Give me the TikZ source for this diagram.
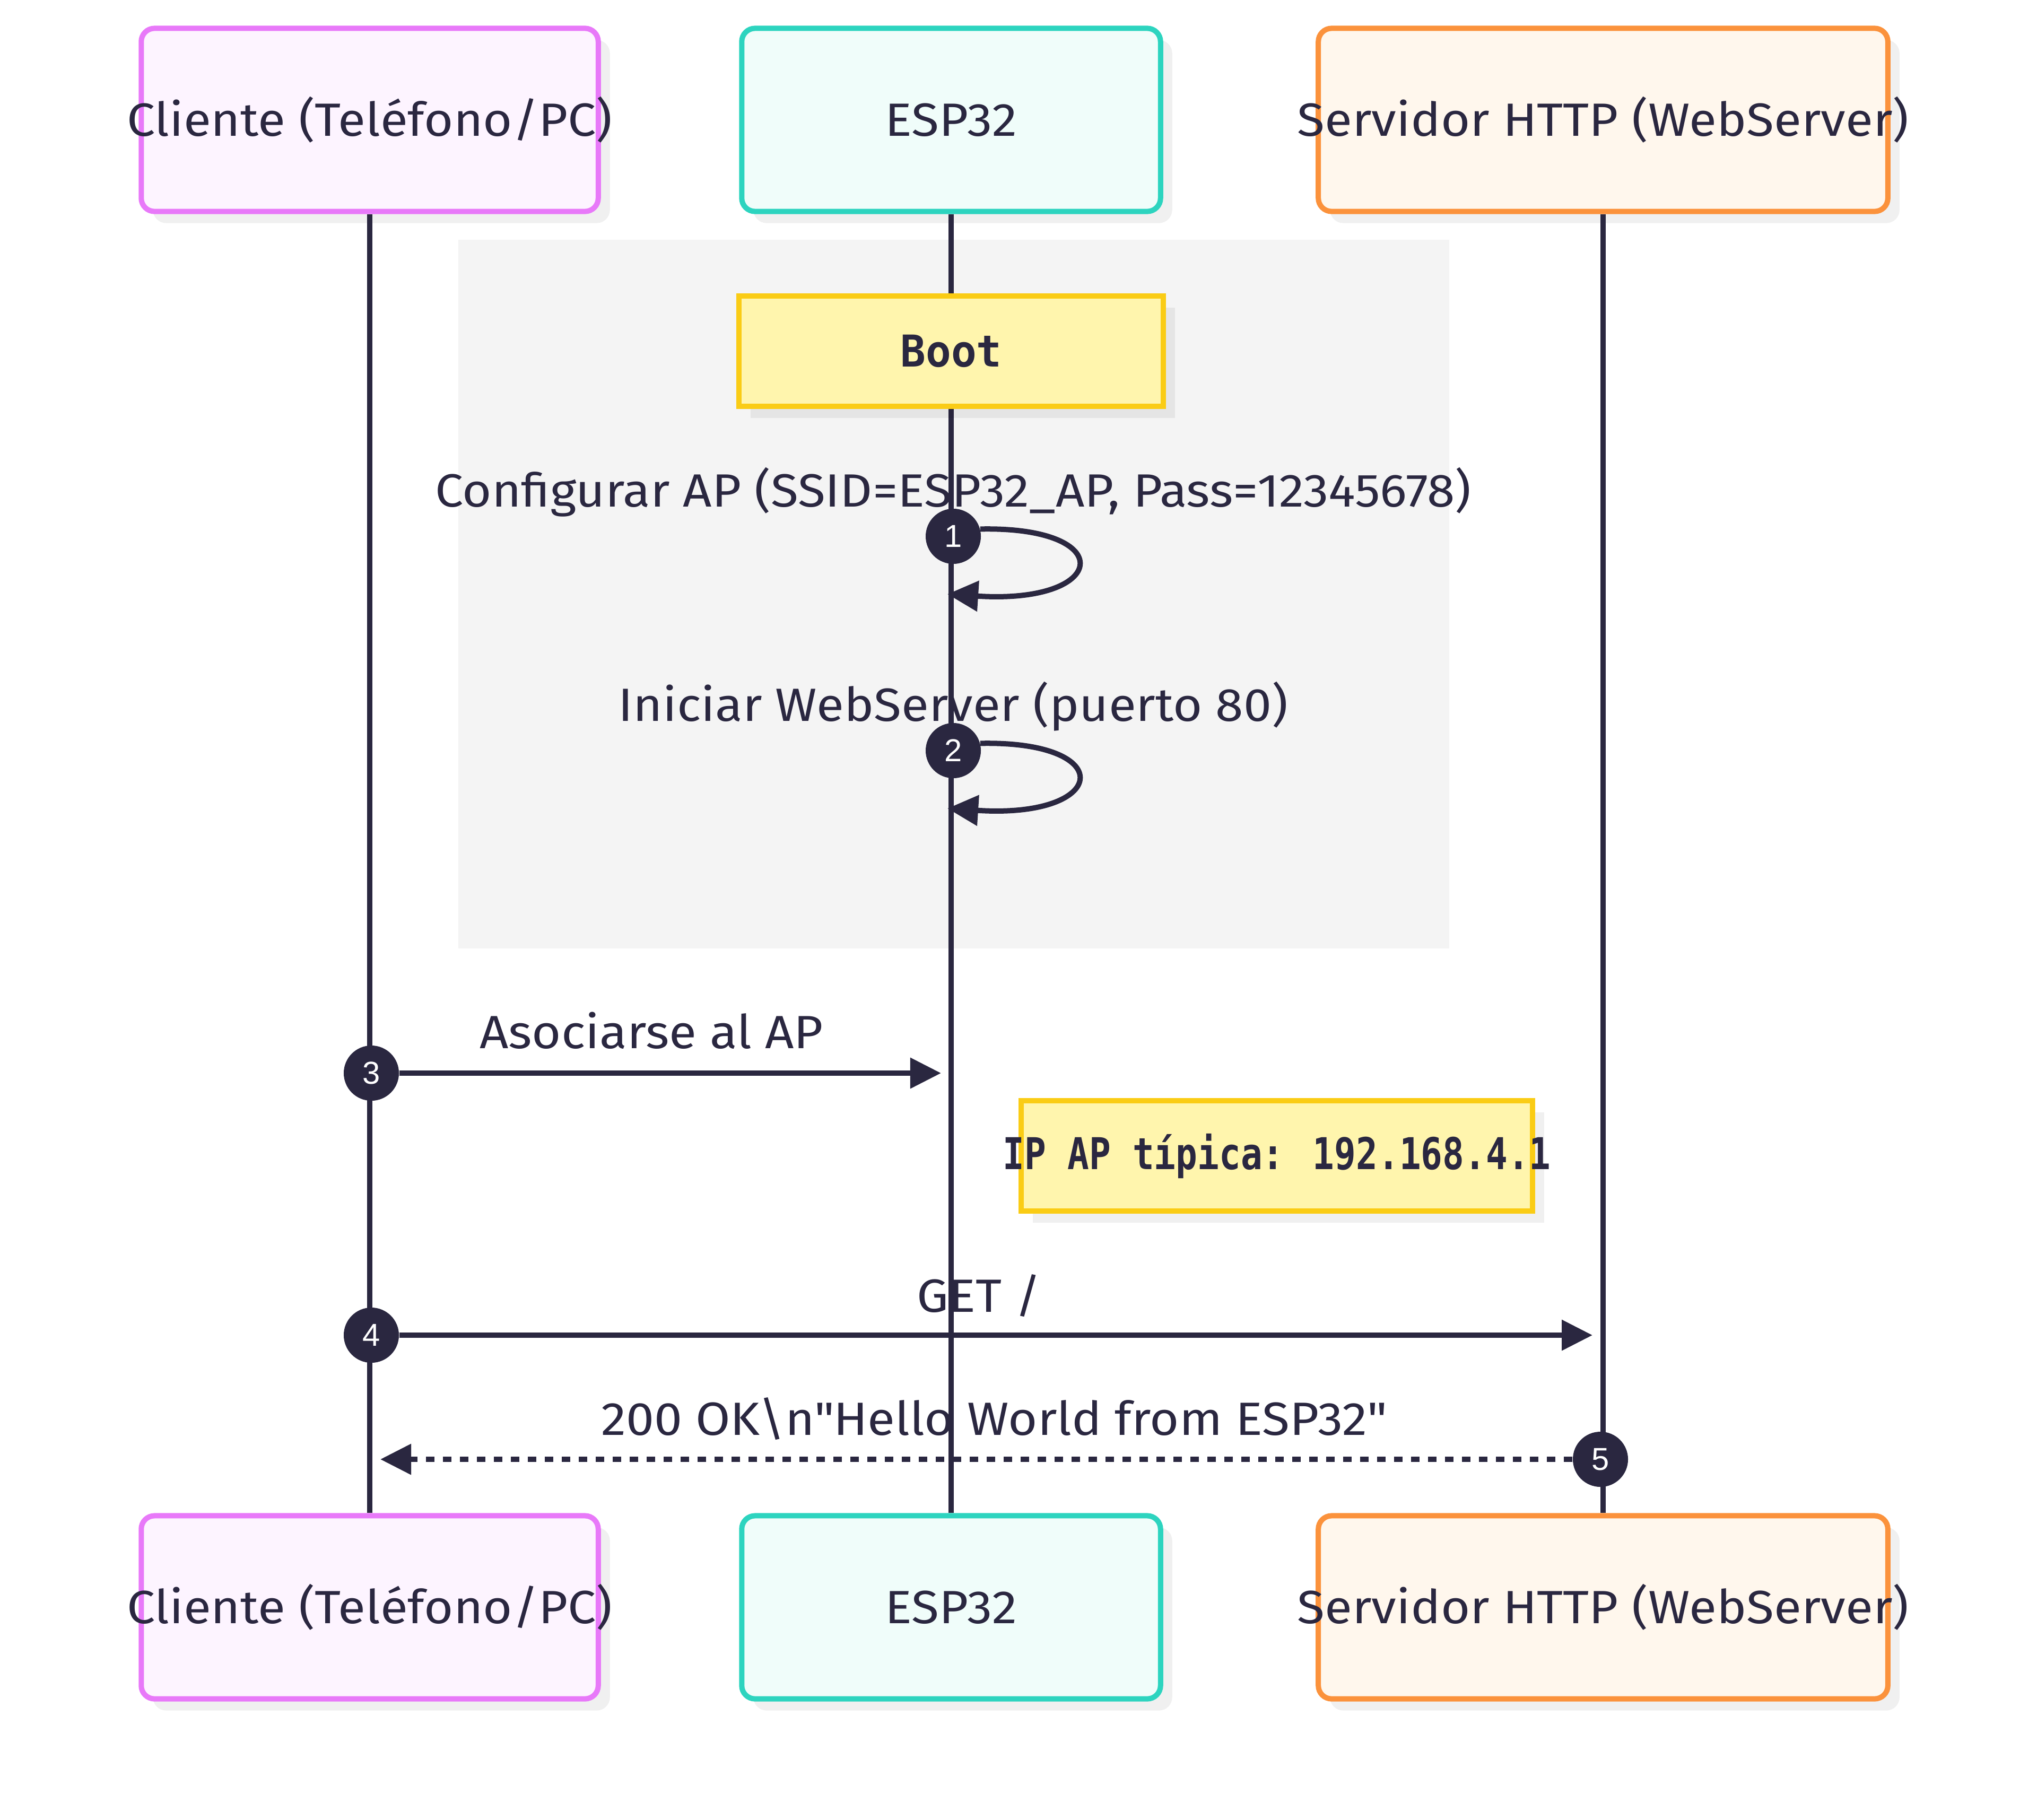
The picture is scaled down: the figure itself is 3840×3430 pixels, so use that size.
\documentclass[tikz,border=0pt]{standalone}
\usepackage{fontspec}
\setmainfont{Fira Sans}[FakeStretch=1.08]
\newfontfamily\notefont[FakeStretch=0.82]{DejaVu Sans Mono}
\newfontfamily\bootfont[FakeStretch=0.96]{DejaVu Sans Mono}
\newfontfamily\numfont{Liberation Sans}
\usepackage{tikz}
\usetikzlibrary{arrows.meta, positioning, shadows}

\definecolor{ink}{HTML}{2A2740}
\definecolor{cliline}{HTML}{E879F9}
\definecolor{clifill}{HTML}{FDF4FF}
\definecolor{espline}{HTML}{2DD4BF}
\definecolor{espfill}{HTML}{F0FDFA}
\definecolor{srvline}{HTML}{FB923C}
\definecolor{srvfill}{HTML}{FFF7ED}
\definecolor{noteline}{HTML}{FACC15}
\definecolor{notefill}{HTML}{FFF5AD}
\definecolor{bootgrey}{HTML}{F4F4F4}

\tikzset{
  flatshadow/.style={general shadow={fill=black, fill opacity=0.06, shadow xshift=0.22cm, shadow yshift=-0.22cm}},
  actor/.style={draw, line width=0.1cm, rounded corners=0.25cm, minimum height=3.45cm, inner sep=0pt,
    text=ink, font=\fontsize{25}{30}\selectfont, flatshadow},
  note/.style={draw=noteline, fill=notefill, line width=0.1cm, minimum height=2.08cm, inner sep=0pt,
    text=ink, font=\notefont\bfseries\fontsize{23.5}{28}\selectfont, flatshadow},
  lbl/.style={text=ink, inner sep=0pt, font=\fontsize{25}{30}\selectfont},
  num/.style={circle, fill=ink, minimum size=1.04cm, inner sep=0pt, text=white, font=\numfont\fontsize{17}{17}\selectfont},
  msg/.style={draw=ink, line width=0.1cm, -{Triangle[length=0.58cm, width=0.56cm]}},
  reply/.style={msg, dash pattern=on 0.16cm off 0.16cm}
}

\begin{document}
\begin{tikzpicture}[x=0.01cm, y=-0.01cm]
\useasboundingbox (0,0) rectangle (3840,3430);

% Boot block
\fill[bootgrey] (864,452) rectangle (2732,1788);

% Participants, top and bottom
\node[actor, draw=cliline, fill=clifill, minimum width=8.61cm] (cliT) at (697,226) {\makebox[0pt]{Cliente (Teléfono/PC)}};
\node[actor, draw=espline, fill=espfill, minimum width=7.89cm] (espT) at (1793,226) {ESP32};
\node[actor, draw=srvline, fill=srvfill, minimum width=10.73cm] (srvT) at (3022,226) {\makebox[0pt]{Servidor HTTP (WebServer)}};
\node[actor, draw=cliline, fill=clifill, minimum width=8.61cm] (cliB) at (697,3030) {\makebox[0pt]{Cliente (Teléfono/PC)}};
\node[actor, draw=espline, fill=espfill, minimum width=7.89cm] (espB) at (1793,3030) {ESP32};
\node[actor, draw=srvline, fill=srvfill, minimum width=10.73cm] (srvB) at (3022,3030) {\makebox[0pt]{Servidor HTTP (WebServer)}};

% Lifelines
\draw[ink, line width=0.105cm] (cliT) -- (cliB);
\draw[ink, line width=0.105cm] (espT) -- (espB);
\draw[ink, line width=0.105cm] (srvT) -- (srvB);

% Notes
\node[note, minimum width=7.99cm, font=\bootfont\bfseries\fontsize{23.5}{28}\selectfont] (boot) at (1793,662) {Boot};
\node[note, minimum width=9.63cm] (ipnote) at (2407,2179) {\makebox[0pt]{IP AP típica: 192.168.4.1}};

% Numbered steps
\node[num] (n1) at (1797,1011) {1};
\node[num] (n2) at (1797,1415) {2};
\node[num] (n3) at (700,2023) {3};
\node[num] (n4) at (700,2517) {4};
\node[num] (n5) at (3017,2751) {5};

\coordinate (e1) at (1786,1120);
\coordinate (e2) at (1786,1524);
\coordinate (e3) at (1774,2023);
\coordinate (e4) at (3002,2517);
\coordinate (e5) at (717,2751);

% Messages
\draw[msg] (n1.15) .. controls (2110,992) and (2090,1140) .. (e1);
\draw[msg] (n2.15) .. controls (2110,1396) and (2090,1544) .. (e2);
\draw[msg] (n3) -- (e3);
\draw[msg] (n4) -- (e4);
\draw[reply] (n5) -- (e5);

% Message texts
\node[lbl, anchor=base] (t1) at (1797,955) {Configurar AP (SSID=ESP32\_AP, Pass=12345678)};
\node[lbl, anchor=base] (t2) at (1797,1359) {Iniciar WebServer (puerto 80)};
\node[lbl, anchor=base] (t3) at (1228,1976) {Asociarse al AP};
\node[lbl, anchor=base] (t4) at (1846,2473) {GET /};
\node[lbl, anchor=base] (t5) at (1873,2705) {200 OK\textbackslash n\textquotedbl Hello World from ESP32\textquotedbl};

\end{tikzpicture}
\end{document}
